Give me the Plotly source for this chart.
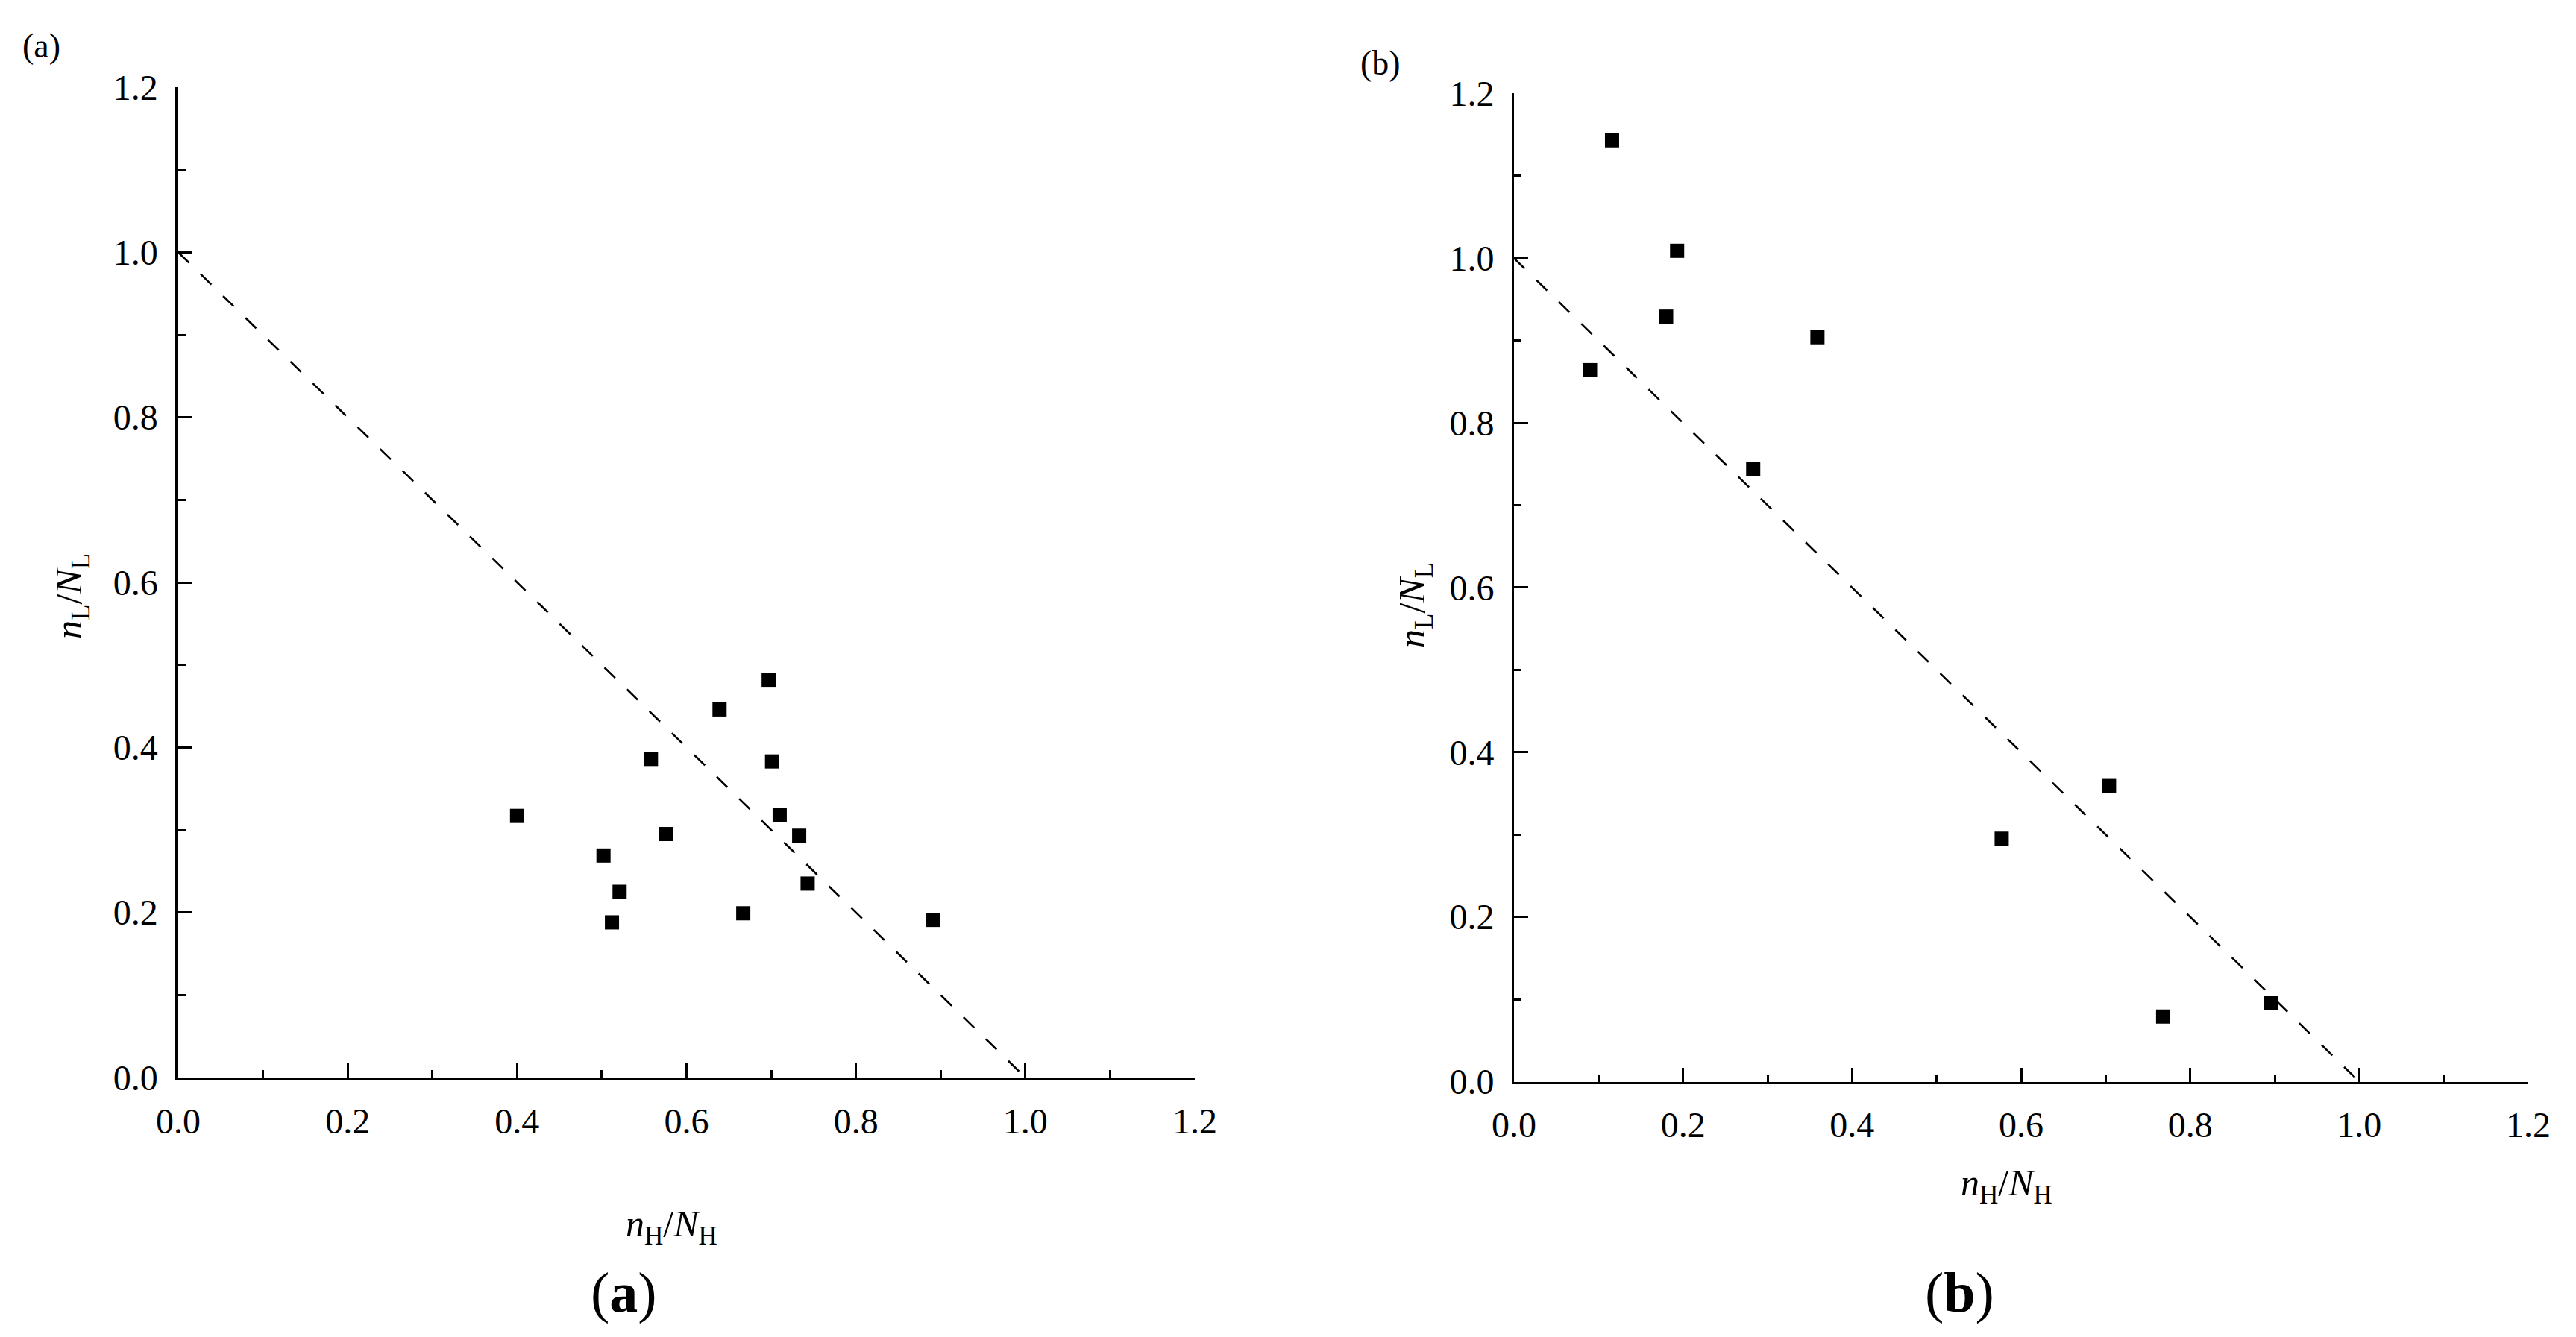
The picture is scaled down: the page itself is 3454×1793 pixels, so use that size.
import plotly.graph_objects as go

# ---------------- data ----------------
a_x = [0.697, 0.639, 0.558, 0.701, 0.400, 0.710, 0.576, 0.733, 0.502, 0.521, 0.743, 0.667, 0.512, 0.891]
a_y = [0.482, 0.446, 0.386, 0.383, 0.317, 0.318, 0.295, 0.293, 0.269, 0.225, 0.235, 0.199, 0.188, 0.191]
b_x = [0.116, 0.193, 0.180, 0.359, 0.090, 0.283, 0.704, 0.577, 0.768, 0.896]
b_y = [1.143, 1.009, 0.929, 0.904, 0.864, 0.744, 0.359, 0.295, 0.079, 0.095]
line_x = [0.0, 1.0]
line_y = [1.0, 0.0]
axis_range = [0.0, 1.2]
x_title = "<i>n</i><sub>H</sub>/<i>N</i><sub>H</sub>"
y_title = "<i>n</i><sub>L</sub>/<i>N</i><sub>L</sub>"
panel_tags = ["(a)", "(b)"]
captions = ["(<b>a</b>)", "(<b>b</b>)"]

# ---------------- geometry (page pixels) ----------------
W, H = 3454, 1793
FONT = "Liberation Serif, Times New Roman, serif"


def px(x):
    return x / W


def py(y):
    return (H - y) / H


fig = go.Figure()

marker = dict(symbol="square", size=19, color="black", line=dict(width=0))
dash = dict(color="black", width=2.6, dash="20px,22px")

fig.add_trace(go.Scatter(x=line_x, y=line_y, mode="lines", line=dash, xaxis="x", yaxis="y", hoverinfo="skip"))
fig.add_trace(go.Scatter(x=a_x, y=a_y, mode="markers", marker=marker, xaxis="x", yaxis="y"))
fig.add_trace(go.Scatter(x=line_x, y=line_y, mode="lines", line=dash, xaxis="x2", yaxis="y2", hoverinfo="skip"))
fig.add_trace(go.Scatter(x=b_x, y=b_y, mode="markers", marker=marker, xaxis="x2", yaxis="y2"))


def axis(domain, anchor, lw):
    return dict(
        domain=domain, anchor=anchor, range=axis_range, automargin=False,
        tickmode="linear", tick0=0, dtick=0.2, tickformat=".1f",
        ticks="inside", ticklen=19, tickwidth=3, tickcolor="black",
        minor=dict(ticks="inside", ticklen=10, tickwidth=3, tickcolor="black", dtick=0.1, tick0=0),
        showline=True, linewidth=lw, linecolor="black", mirror=False,
        showgrid=False, zeroline=False,
        tickfont=dict(family=FONT, size=48, color="black"),
        ticklabelstandoff=14,
    )


fig.update_layout(
    template="none",
    width=W, height=H,
    margin=dict(l=0, r=0, t=0, b=0, pad=0, autoexpand=False),
    paper_bgcolor="white", plot_bgcolor="white",
    showlegend=False,
    xaxis=axis([px(239), px(1602)], "y", 3),
    yaxis=axis([py(1445), py(117)], "x", 3.5),
    xaxis2=axis([px(2030), px(3390)], "y2", 3),
    yaxis2=axis([py(1450.5), py(125.4)], "x2", 3),
)

ann = []
def text(x, y, t, size, angle=0):
    ann.append(dict(x=px(x), y=py(y), xref="paper", yref="paper", text=t, showarrow=False,
                    xanchor="center", yanchor="middle", textangle=angle,
                    font=dict(family=FONT, size=size, color="black")))

# axis titles
text(900, 1645, x_title, 50)
text(96, 800, y_title, 50, -90)
text(2690, 1590, x_title, 50)
text(1897, 812, y_title, 50, -90)
# panel tags
text(55, 61, panel_tags[0], 46)
text(1851, 85, panel_tags[1], 46)
# captions
text(836, 1733, captions[0], 76)
text(2627, 1733, captions[1], 76)

fig.update_layout(annotations=ann)

fig.write_html(
    "out.html",
    config={"displayModeBar": False},
    post_script="document.body.style.margin='0';document.body.style.overflow='hidden';",
)
